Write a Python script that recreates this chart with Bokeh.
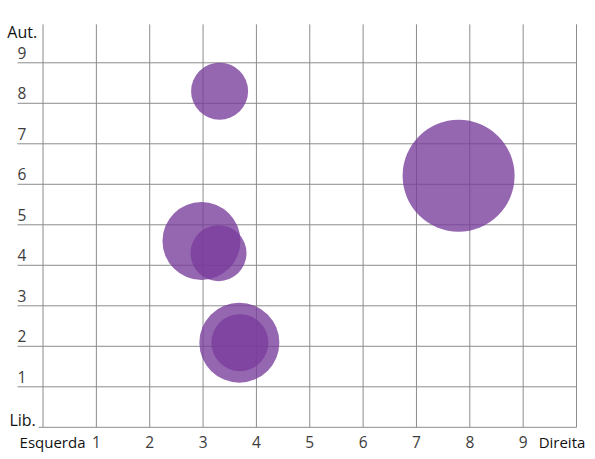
from bokeh.plotting import figure
from bokeh.models import ColumnDataSource, Range1d
from bokeh.core.properties import value
from bokeh.embed import file_html
from bokeh.resources import INLINE

# ---- data ----
bubble_x = [3.31, 7.79, 2.97, 3.29, 3.68, 3.69]
bubble_y = [8.30, 6.21, 4.60, 4.30, 2.09, 2.09]
bubble_size = [57, 112, 78, 56, 80, 57]  # diameters (px)

x_ticks = [1, 2, 3, 4, 5, 6, 7, 8, 9]
x_tick_labels = ["1", "2", "3", "4", "5", "6", "7", "8", "9"]
y_ticks = [1, 2, 3, 4, 5, 6, 7, 8, 9]
y_tick_labels = ["1", "2", "3", "4", "5", "6", "7", "8", "9"]
x_grid = [0, 1, 2, 3, 4, 5, 6, 7, 8, 9, 10]

x_left_name, x_right_name = "Esquerda", "Direita"
y_top_name, y_bottom_name = "Aut.", "Lib."

FONT = value("Open Sans")
GRID = "#8c8c8c"

p = figure(width=595, height=459, output_backend="svg", toolbar_location=None,
           x_range=Range1d(-0.797, 10.356), y_range=Range1d(-0.795, 10.538),
           min_border=0, min_border_left=0, min_border_right=0,
           min_border_top=0, min_border_bottom=0)
p.axis.visible = False
p.grid.visible = False
p.outline_line_color = None
p.background_fill_color = "white"
p.border_fill_color = "white"

# vertical grid lines (x = 0..10)
p.segment(x0=x_grid, y0=[0] * len(x_grid), x1=x_grid, y1=[9.95] * len(x_grid),
          line_color=GRID, line_width=1)
# horizontal grid lines (y = 1..9) extending under the labels
p.segment(x0=[-0.478] * len(y_ticks), y0=y_ticks, x1=[10] * len(y_ticks), y1=y_ticks,
          line_color=GRID, line_width=1)
# baseline y = 0
p.segment(x0=[-0.08], y0=[0], x1=[10], y1=[0], line_color=GRID, line_width=1)

# bubbles
src = ColumnDataSource(dict(x=bubble_x, y=bubble_y, s=bubble_size))
p.scatter("x", "y", size="s", source=src, fill_color="#783c9b", fill_alpha=0.78,
          line_color=None)

# y tick labels (above the grid lines, left aligned)
p.text(x=[-0.478] * len(y_ticks), y=y_ticks, text=y_tick_labels,
       text_font=FONT, text_font_size="15.5px", text_color="#3c3c3c",
       text_align="left", text_baseline="alphabetic", y_offset=-10)

# x tick labels
p.text(x=x_ticks, y=[-0.523] * len(x_ticks), text=x_tick_labels,
       text_font=FONT, text_font_size="15.5px", text_color="#3c3c3c",
       text_align="center", text_baseline="alphabetic", y_offset=-6)

# end labels
p.text(x=[-0.44], y=[-0.523], text=[x_left_name], text_font=FONT,
       text_font_size="15px", text_color="#111111",
       text_align="left", text_baseline="alphabetic", y_offset=-6)
p.text(x=[9.29], y=[-0.523], text=[x_right_name], text_font=FONT,
       text_font_size="15px", text_color="#111111",
       text_align="left", text_baseline="alphabetic", y_offset=-6)
p.text(x=[-0.67], y=[9.62], text=[y_top_name], text_font=FONT,
       text_font_size="16px", text_color="#111111",
       text_align="left", text_baseline="alphabetic", y_offset=-6)
p.text(x=[-0.63], y=[0.0], text=[y_bottom_name], text_font=FONT,
       text_font_size="16px", text_color="#111111",
       text_align="left", text_baseline="alphabetic", y_offset=-7)

open("out.html", "w").write(file_html(p, INLINE))
